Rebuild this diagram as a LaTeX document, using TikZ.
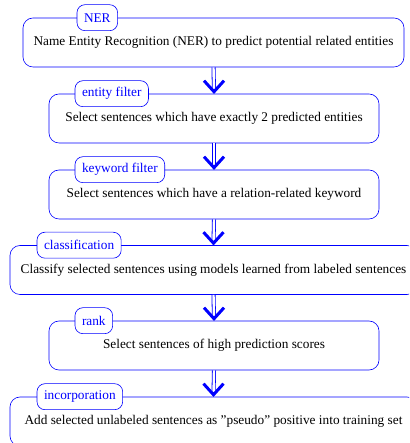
\documentclass[tikz,border=0pt]{standalone}
\usepackage{fontspec}
\setmainfont{Liberation Serif}
\begin{document}
\begin{tikzpicture}[x=1pt,y=1pt,
  stepbox/.style={draw=blue, line width=0.6pt, rounded corners=10pt, fill=white,
    minimum height=49pt, inner sep=0pt, font=\fontsize{13.3}{15}\selectfont},
  tagbox/.style={draw=blue, line width=0.6pt, rounded corners=8pt, fill=white,
    text=blue, minimum height=26pt, inner xsep=7pt, inner ysep=0pt, anchor=west,
    font=\fontsize{13.3}{15}\selectfont},
  flow/.style={draw=blue, double, double distance=2.4pt, line width=0.8pt},
  chev/.style={draw=blue, line width=3pt}]
\clip (0,0) rectangle (409,443);
\fill[white] (0,0) rectangle (409,443);
\node[stepbox, minimum width=381pt] (b1) at (213.5,400.5) {Name Entity Recognition (NER) to predict potential related entities};
\node[stepbox, minimum width=330pt] (b2) at (214,324.5) {Select sentences which have exactly 2 predicted entities};
\node[stepbox, minimum width=330pt] (b3) at (214,248.5) {Select sentences which have a relation-related keyword};
\node[stepbox, minimum width=407pt] (b4) at (213.5,173) {Classify selected sentences using models learned from labeled sentences};
\node[stepbox, minimum width=330pt] (b5) at (214,97.5) {Select sentences of high prediction scores};
\node[stepbox, minimum width=407pt] (b6) at (213.5,21.5) {Add selected unlabeled sentences as "pseudo" positive into training set};
\foreach \a/\b in {b1/b2,b2/b3,b3/b4,b4/b5,b5/b6}{
  \draw[flow] (\a.south) -- ([yshift=2pt]\b.north);
  \draw[chev] ([shift={(-10pt,13pt)}]\b.north) -- ([yshift=2pt]\b.north) -- ([shift={(10pt,13pt)}]\b.north);
}
\node[tagbox] (t1) at ([xshift=54pt]b1.north west) {NER};
\node[tagbox] (t2) at ([xshift=26pt]b2.north west) {entity filter};
\node[tagbox] (t3) at ([xshift=26pt]b3.north west) {keyword filter};
\node[tagbox] (t4) at ([xshift=27pt]b4.north west) {classification};
\node[tagbox] (t5) at ([xshift=26pt]b5.north west) {rank};
\node[tagbox] (t6) at ([xshift=27pt]b6.north west) {incorporation};
\end{tikzpicture}
\end{document}
